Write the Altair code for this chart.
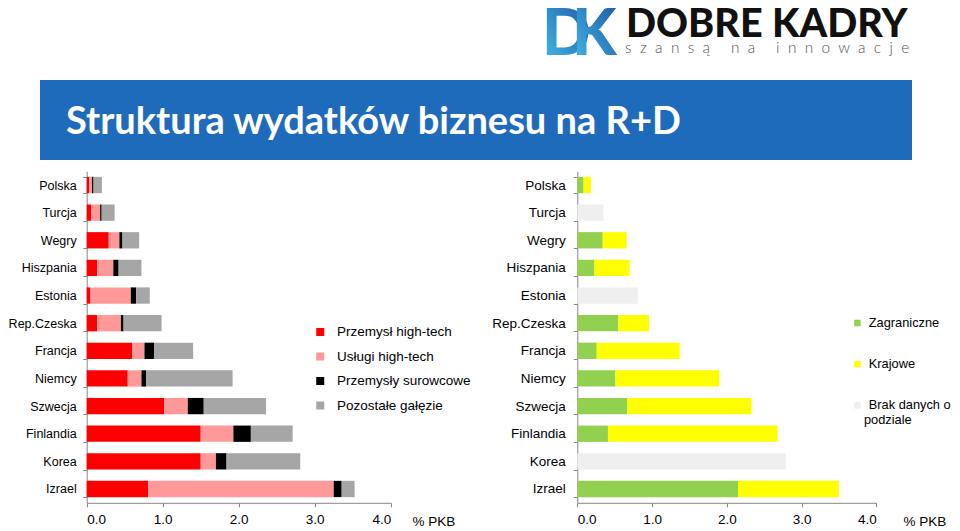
import altair as alt
import pandas as pd

# ---------------- data ----------------
countries = ["Polska", "Turcja", "Wegry", "Hiszpania", "Estonia", "Rep.Czeska",
             "Francja", "Niemcy", "Szwecja", "Finlandia", "Korea", "Izrael"]

sectors = ["Przemysł high-tech", "Usługi high-tech", "Przemysły surowcowe", "Pozostałe gałęzie"]
sector_colors = ["#ff0000", "#ff9999", "#000000", "#a6a6a6"]
przemysl_ht = [0.035, 0.057, 0.29, 0.14, 0.05, 0.14, 0.60, 0.54, 1.02, 1.50, 1.50, 0.81]
uslugi_ht   = [0.035, 0.12, 0.14, 0.21, 0.53, 0.31, 0.16, 0.18, 0.31, 0.43, 0.20, 2.44]
surowcowe   = [0.02, 0.02, 0.04, 0.07, 0.07, 0.035, 0.13, 0.06, 0.21, 0.23, 0.14, 0.105]
pozostale   = [0.11, 0.17, 0.22, 0.30, 0.18, 0.50, 0.51, 1.14, 0.82, 0.55, 0.97, 0.17]

sources = ["Zagraniczne", "Krajowe", "Brak danych o podziale"]
source_colors = ["#92d050", "#ffff00", "#efefef"]
zagraniczne = [0.084, None, 0.34, 0.23, None, 0.55, 0.26, 0.51, 0.67, 0.41, None, 2.15]
krajowe     = [0.098, None, 0.32, 0.47, None, 0.41, 1.11, 1.39, 1.66, 2.27, None, 1.35]
brak        = [None, 0.35, None, None, 0.81, None, None, None, None, None, 2.79, None]

x_ticks = [0, 1, 2, 3, 4]

title_text = "Struktura wydatków biznesu na R+D"
brand_text = "DOBRE KADRY"
tagline_words = ["szansą", "na", "innowacje"]
unit_text = "% PKB"

# letter-spaced tagline (non-breaking spaces so SVG keeps them)
NB = "\u00a0"
tagline_text = (NB * 5).join((NB * 2).join(list(w)) for w in tagline_words)

# ---------------- tables ----------------
rows = []
for series, name in zip([przemysl_ht, uslugi_ht, surowcowe, pozostale], sectors):
    for c, v in zip(countries, series):
        rows.append({"country": c, "sector": name, "value": v, "ord": sectors.index(name)})
left_df = pd.DataFrame(rows)

rows = []
for series, name in zip([zagraniczne, krajowe, brak], sources):
    for c, v in zip(countries, series):
        if v is not None:
            rows.append({"country": c, "source": name, "value": v, "ord": sources.index(name)})
right_df = pd.DataFrame(rows)

# ---------------- layout (page px -> chart px) ----------------
M = 8
W, H = 944, 523
def p(v):
    return v - M

FONT = "Liberation Sans"
FS = 13.5
AX = "#888888"
y_top, y_bot = p(171.2), p(502.8)

one = pd.DataFrame({"k": [0]})

def y_axis(xpos, fs, pad):
    return alt.Axis(orient="left", offset=-xpos, title=None, tickBand="extent",
                    tickSize=4, tickColor=AX, domainColor=AX, labelFont=FONT,
                    labelFontSize=fs, labelColor="#000000", labelPadding=pad, grid=False)

def x_axis(title_x):
    return alt.Axis(orient="bottom", offset=y_bot - H, values=x_ticks, format=".1f",
                    tickSize=4, tickColor=AX, domainColor=AX, labelFont=FONT,
                    labelFontSize=FS, labelColor="#000000", labelPadding=6, grid=False,
                    title=unit_text, titleX=title_x, titleY=19, titleAlign="left",
                    titleBaseline="middle", titleFont=FONT, titleFontSize=FS,
                    titleFontWeight="normal", titleColor="#000000", titleAngle=0)

left = alt.Chart(left_df).mark_bar().encode(
    x=alt.X("value:Q", stack="zero",
            scale=alt.Scale(domain=[0, 4], range=[p(86.7), p(390.7)], nice=False),
            axis=x_axis(p(412))),
    y=alt.Y("country:N", sort=countries,
            scale=alt.Scale(domain=countries, range=[y_top, y_bot], paddingInner=0.41, paddingOuter=0.205),
            axis=y_axis(p(86.7), 12.5, 6.5)),
    color=alt.Color("sector:N", scale=alt.Scale(domain=sectors, range=sector_colors),
                    legend=alt.Legend(orient="none", legendX=p(313.5), legendY=p(332) - FS / 2,
                                      title=None, symbolType="square", symbolSize=64,
                                      symbolStrokeWidth=0, labelFont=FONT, labelFontSize=FS,
                                      labelColor="#000000", labelOffset=10, rowPadding=9.5,
                                      padding=0)),
    order=alt.Order("ord:Q"),
)

RFS = 12.8
right = alt.Chart(right_df).mark_bar().encode(
    x=alt.X("value:Q", stack="zero",
            scale=alt.Scale(domain=[0, 4], range=[p(577.3), p(876.3)], nice=False),
            axis=x_axis(p(903))),
    y=alt.Y("country:N", sort=countries,
            scale=alt.Scale(domain=countries, range=[y_top, y_bot], paddingInner=0.41, paddingOuter=0.205),
            axis=y_axis(p(577.3), FS, 8)),
    color=alt.Color("source:N", scale=alt.Scale(domain=sources, range=source_colors),
                    legend=alt.Legend(orient="none", legendX=p(851), legendY=p(323) - RFS / 2,
                                      title=None, symbolType="square", symbolSize=42,
                                      symbolStrokeWidth=0, labelFont=FONT, labelFontSize=RFS,
                                      labelColor="#000000", labelOffset=5, rowPadding=27.2,
                                      padding=0, labelLimit=200,
                                      labelExpr="datum.label == 'Brak danych o podziale' ? 'Brak danych o' : datum.label")),
    order=alt.Order("ord:Q"),
)

podziale = alt.Chart(one).mark_text(
    text="podziale", align="left", baseline="middle", font=FONT, fontSize=RFS, color="#000000"
).encode(x=alt.value(p(864)), y=alt.value(p(420)))

banner = alt.Chart(one).mark_rect(color="#1f6bbb").encode(
    x=alt.value(p(40)), x2=alt.value(p(912)), y=alt.value(p(80)), y2=alt.value(p(160)))

title = alt.Chart(one).mark_text(
    text=title_text, align="left", baseline="alphabetic", font="Lato", fontWeight="bold",
    fontSize=38, color="#ffffff"
).encode(x=alt.value(p(66)), y=alt.value(p(134)))

grad = alt.Gradient(gradient="linear",
                    stops=[alt.GradientStop(color="#45c0ec", offset=0),
                           alt.GradientStop(color="#1b4f9e", offset=1)],
                    x1=0, x2=1, y1=1, y2=0)

logo_d = alt.Chart(one).mark_text(
    text="D", align="left", baseline="alphabetic", font="Lato", fontWeight=900,
    fontSize=64, color=grad
).encode(x=alt.value(p(542)), y=alt.value(p(55)))

logo_k = alt.Chart(one).mark_text(
    text="K", align="left", baseline="alphabetic", font="Lato", fontWeight=900,
    fontSize=64, color=grad
).encode(x=alt.value(p(572)), y=alt.value(p(55)))

brand = alt.Chart(one).mark_text(
    text=brand_text, align="left", baseline="alphabetic", font="Lato", fontWeight=900,
    fontSize=39.5, color="#111111"
).encode(x=alt.value(p(626)), y=alt.value(p(37)))

tagline = alt.Chart(one).mark_text(
    text=tagline_text, align="left", baseline="alphabetic", font="Lato", fontWeight=300,
    fontSize=15.4, color="#555555"
).encode(x=alt.value(p(625)), y=alt.value(p(53)))

chart = alt.layer(
    banner, title, logo_d, logo_k, brand, tagline, left, right, podziale
).resolve_scale(
    x="independent", y="independent", color="independent"
).properties(
    width=W, height=H, padding=0, autosize=alt.AutoSizeParams(type="none"),
    background="#ffffff"
).configure_view(stroke=None)

chart.save("out.html", embed_options={"renderer": "svg", "actions": False})
